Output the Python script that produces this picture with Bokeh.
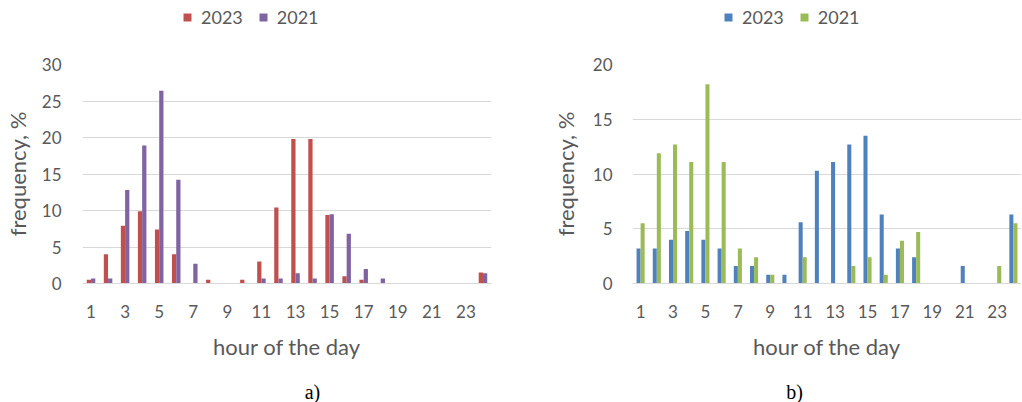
from bokeh.plotting import figure
from bokeh.layouts import row, column
from bokeh.models import ColumnDataSource, Range1d, FixedTicker, Legend, LegendItem, Label
from bokeh.transform import dodge
from bokeh.embed import file_html
from bokeh.resources import INLINE

# ---------------- data ----------------
hours = list(range(1, 25))
tick_hours = [1, 3, 5, 7, 9, 11, 13, 15, 17, 19, 21, 23]
series_names = ["2023", "2021"]

# chart a) frequency, %
a_2023 = [0.5, 4.0, 7.9, 9.9, 7.4, 4.0, 0.0, 0.5, 0.0, 0.5, 3.0, 10.4,
          19.8, 19.8, 9.4, 1.0, 0.5, 0.0, 0.0, 0.0, 0.0, 0.0, 0.0, 1.5]
a_2021 = [0.7, 0.7, 12.8, 18.9, 26.4, 14.2, 2.7, 0.0, 0.0, 0.0, 0.7, 0.7,
          1.4, 0.7, 9.5, 6.8, 2.0, 0.7, 0.0, 0.0, 0.0, 0.0, 0.0, 1.4]
a_yticks = [0, 5, 10, 15, 20, 25, 30]

# chart b) frequency, %
b_2023 = [3.2, 3.2, 4.0, 4.8, 4.0, 3.2, 1.6, 1.6, 0.8, 0.8, 5.6, 10.3,
          11.1, 12.7, 13.5, 6.3, 3.2, 2.4, 0.0, 0.0, 1.6, 0.0, 0.0, 6.3]
b_2021 = [5.5, 11.9, 12.7, 11.1, 18.2, 11.1, 3.2, 2.4, 0.8, 0.0, 2.4, 0.0,
          0.0, 1.6, 2.4, 0.8, 3.9, 4.7, 0.0, 0.0, 0.0, 0.0, 1.6, 5.5]
b_yticks = [0, 5, 10, 15, 20]

x_title = "hour of the day"
y_title = "frequency, %"
captions = ["a)", "b)"]

TXT = "#595959"
GRID = "#D9D9D9"
FONT = "Lato"
COLORS_A = ["#C0504D", "#8064A2"]
COLORS_B = ["#4F81BD", "#9BBB59"]


def add_bars(p, src, colors):
    r1 = p.vbar(x=dodge("hour", -0.125, range=p.x_range), top="y23", width=0.25,
                source=src, fill_color=colors[0], line_color=None)
    r2 = p.vbar(x=dodge("hour", 0.125, range=p.x_range), top="y21", width=0.25,
                source=src, fill_color=colors[1], line_color=None)
    return [r1, r2]


def make_chart(src, colors, yticks, fw, fh, bl, br, bt, bb,
               ylab_standoff, ytick_standoff):
    p = figure(frame_width=fw, frame_height=fh,
               x_range=Range1d(0.5, 24.5), y_range=Range1d(0, yticks[-1]),
               output_backend="svg", toolbar_location=None)
    p.min_border_left = bl
    p.min_border_right = br
    p.min_border_top = bt
    p.min_border_bottom = bb
    p.outline_line_color = None

    add_bars(p, src, colors)

    p.xaxis.ticker = FixedTicker(ticks=tick_hours)
    p.yaxis.ticker = FixedTicker(ticks=yticks)
    for ax in (p.xaxis, p.yaxis):
        ax.major_tick_line_color = None
        ax.minor_tick_line_color = None
        ax.major_tick_out = 0
        ax.major_tick_in = 0
        ax.major_label_text_font = FONT
        ax.major_label_text_font_size = "17px"
        ax.major_label_text_color = TXT
        ax.axis_label_text_font = FONT
        ax.axis_label_text_font_size = "22px"
        ax.axis_label_text_font_style = "normal"
        ax.axis_label_text_color = TXT
    p.xaxis.axis_line_color = GRID
    p.xaxis.axis_line_width = 1
    p.yaxis.axis_line_color = None
    p.xaxis.axis_label = x_title
    p.yaxis.axis_label = y_title
    p.xaxis.major_label_standoff = 21
    p.xaxis.axis_label_standoff = 12
    p.yaxis.major_label_standoff = ytick_standoff
    p.yaxis.axis_label_standoff = ylab_standoff

    p.xgrid.grid_line_color = None
    p.ygrid.grid_line_color = GRID
    p.ygrid.grid_line_width = 1
    return p


def strip(width, height):
    # a blank strip; its ranges lie outside the data so no bar shows in it
    s = figure(width=width, height=height, x_range=Range1d(-2, -1), y_range=Range1d(0, 1),
               output_backend="svg", toolbar_location=None,
               x_axis_location=None, y_axis_location=None, min_border=0)
    s.outline_line_color = None
    s.xgrid.visible = False
    s.ygrid.visible = False
    return s


def legend_strip(width, height, src, colors, loc):
    s = strip(width, height)
    rs = add_bars(s, src, colors)
    legend = Legend(items=[LegendItem(label=n, renderers=[r]) for n, r in zip(series_names, rs)],
                    location=loc, orientation="horizontal")
    legend.label_text_font = FONT
    legend.label_text_font_size = "18px"
    legend.label_text_color = TXT
    legend.glyph_width = 10
    legend.glyph_height = 10
    legend.label_standoff = 9
    legend.spacing = 15
    legend.padding = 0
    legend.margin = 0
    legend.border_line_color = None
    legend.background_fill_alpha = 0
    s.add_layout(legend)
    return s


def caption_strip(width, height, text, x, y):
    s = strip(width, height)
    s.add_layout(Label(x=x, y=y, x_units="screen", y_units="screen", text=text,
                       text_align="center", text_baseline="middle",
                       text_font="Liberation Serif", text_font_size="20px",
                       text_color="black"))
    return s


W_L, W_R = 530, 491
src_a = ColumnDataSource(dict(hour=hours, y23=a_2023, y21=a_2021))
src_b = ColumnDataSource(dict(hour=hours, y23=b_2023, y21=b_2021))

left = make_chart(src_a, COLORS_A, a_yticks, 409, 219, 82, 39, 20, 78, 8, 21)
right = make_chart(src_b, COLORS_B, b_yticks, 389, 219, 102, 0, 20, 78, 11, 20)

leg_l = legend_strip(W_L, 44, src_a, COLORS_A, (182, 16))
leg_r = legend_strip(W_R, 44, src_b, COLORS_B, (193, 16))
cap_l = caption_strip(W_L, 40, captions[0], 312, 11)
cap_r = caption_strip(W_R, 40, captions[1], 264, 11)

layout = column(row(leg_l, leg_r), row(left, right), row(cap_l, cap_r))
open("out.html", "w").write(file_html(layout, INLINE))
